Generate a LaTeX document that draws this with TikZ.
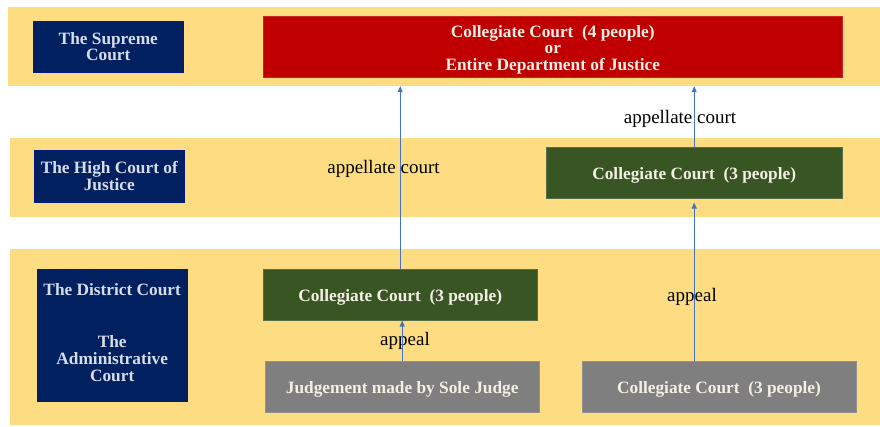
\documentclass[tikz,border=0pt]{standalone}
\usepackage{fontspec}
\setmainfont{Liberation Serif}
\usetikzlibrary{arrows.meta}
\definecolor{bandyellow}{HTML}{FEDC81}
\definecolor{navy}{HTML}{002060}
\definecolor{navytext}{HTML}{D6DCE8}
\definecolor{courtred}{HTML}{C00000}
\definecolor{courtgreen}{HTML}{3A5524}
\definecolor{courtgrey}{HTML}{7F7F7F}
\definecolor{boxtext}{HTML}{F4EFE4}
\definecolor{arrowblue}{HTML}{4472C4}
\newcommand\tallline{\rule{0pt}{18pt}}
\begin{document}
\begin{tikzpicture}[x=1pt,y=-1pt, % court levels and appeals
    band/.style={fill=bandyellow, inner sep=0pt},
    level/.style={draw=navy!80!blue, fill=navy, text=navytext, inner sep=0pt, align=center,
        minimum width=150pt, font=\bfseries\fontsize{17.3}{16.7}\selectfont},
    panel/.style={draw=#1!85!white, fill=#1, text=boxtext, inner sep=0pt, align=center,
        font=\bfseries\fontsize{17.3}{16.7}\selectfont},
    lbl/.style={inner sep=0pt, font=\fontsize{19}{20}\selectfont},
    arw/.style={draw=arrowblue, line width=0.8pt, -{Triangle[width=5pt,length=6pt]}}]
    \useasboundingbox (0,0) rectangle (880,426);
    % the three levels
    \node[band, minimum width=872pt, minimum height=79pt] (top) at (443.5,46.5) {};
    \node[band, minimum width=870pt, minimum height=79pt] (mid) at (445,177.5) {};
    \node[band, minimum width=870pt, minimum height=176pt] (low) at (445,337) {};
    \node[level, minimum height=51pt] (supreme) at (108.3,46.7) {The Supreme\\Court};
    \node[level, minimum height=52pt] (high) at (109.3,176.3) {The High Court of\\Justice};
    \node[level, minimum height=132pt] (district) at (112.2,335.5)
        {The District Court\\[35pt]The\\Administrative\\Court\rule[-6pt]{0pt}{6pt}};
    % courts
    \node[panel=courtred, minimum width=579pt, minimum height=61.7pt] (supcol) at (552.8,46.8)
        {\tallline Collegiate Court~~(4 people)\\or\\Entire Department of Justice};
    \node[panel=courtgreen, minimum width=296.3pt, minimum height=51.3pt] (highcol) at (694.2,172.7)
        {\tallline Collegiate Court~~(3 people)};
    \node[panel=courtgreen, minimum width=273.7pt, minimum height=51pt] (distcol) at (400.2,294.8)
        {\tallline Collegiate Court~~(3 people)};
    \node[panel=courtgrey, minimum width=273.7pt, minimum height=51.3pt] (sole) at (402.2,386.7)
        {\tallline Judgement made by Sole Judge};
    \node[panel=courtgrey, minimum width=273.4pt, minimum height=51.3pt] (distgrey) at (719,386.7)
        {\tallline Collegiate Court~~(3 people)};
    % labels
    \node[lbl] (appA) at (383.5,169) {appellate court};
    \node[lbl] (appB) at (680,119) {appellate court};
    \node[lbl] (apA) at (405,341) {appeal};
    \node[lbl] (apB) at (692,296.5) {appeal};
    % appeals
    \draw[arw] (distcol.north) -- (distcol.north |- top.south);
    \draw[arw] (highcol.north) -- (highcol.north |- top.south);
    \draw[arw] (sole.north) -- (sole.north |- distcol.south);
    \draw[arw, shorten >=4pt] (highcol.south |- distgrey.north) -- (highcol.south);
\end{tikzpicture}
\end{document}
